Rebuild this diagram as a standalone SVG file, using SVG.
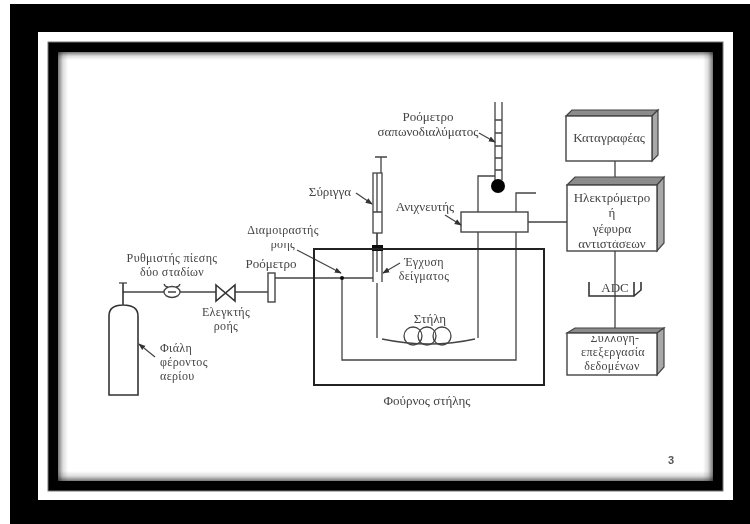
<svg xmlns="http://www.w3.org/2000/svg" width="750" height="524" viewBox="0 0 750 524">
<defs>
<linearGradient id="gl" x1="0" x2="1" y1="0" y2="0"><stop offset="0" stop-color="#777"/><stop offset=".5" stop-color="#ddd"/><stop offset="1" stop-color="#fff"/></linearGradient>
<linearGradient id="gr" x1="1" x2="0" y1="0" y2="0"><stop offset="0" stop-color="#777"/><stop offset=".5" stop-color="#ddd"/><stop offset="1" stop-color="#fff"/></linearGradient>
<linearGradient id="gt" x1="0" x2="0" y1="0" y2="1"><stop offset="0" stop-color="#777"/><stop offset=".5" stop-color="#ddd"/><stop offset="1" stop-color="#fff"/></linearGradient>
<linearGradient id="gb" x1="0" x2="0" y1="1" y2="0"><stop offset="0" stop-color="#777"/><stop offset=".5" stop-color="#ddd"/><stop offset="1" stop-color="#fff"/></linearGradient>
<marker id="a" viewBox="0 0 8 8" refX="7" refY="4" markerWidth="6" markerHeight="6" orient="auto"><path d="M0 1L8 4L0 7Z" fill="#333"/></marker>
<filter id="s" x="-5%" y="-5%" width="110%" height="110%"><feGaussianBlur stdDeviation="0.5"/></filter>
<clipPath id="c1"><rect x="560" y="240" width="100" height="11"/></clipPath>
<clipPath id="c2"><rect x="560" y="336" width="100" height="9"/></clipPath>
<clipPath id="c3"><rect x="595" y="283" width="38" height="12"/></clipPath>
<clipPath id="c4"><rect x="260" y="243" width="50" height="10"/></clipPath>
</defs>
<style>
.l{fill:none;stroke:#444;stroke-width:1.3}
.p{fill:none;stroke:#333;stroke-width:1.6}
.ar{fill:none;stroke:#444;stroke-width:1.2;marker-end:url(#a)}
.t{font-family:"Liberation Serif","DejaVu Serif",serif;font-size:13px;fill:#444;text-anchor:middle}
.n{font-size:12px;letter-spacing:.35px}
.st{text-anchor:start}
.bx{fill:#fff;stroke:#444;stroke-width:1.4}
.tp{fill:#8c8c8c;stroke:#444;stroke-width:1.2}
.sd{fill:#a8a8a8;stroke:#444;stroke-width:1.2}
</style>
<rect width="750" height="524" fill="#fff"/>
<g id="frame">
<rect x="10" y="4" width="740" height="520" fill="#000"/>
<rect x="38" y="32" width="695" height="468" fill="#fff"/>
<rect x="48" y="42" width="675" height="449" fill="#000" stroke="#777" stroke-width="1"/>
<rect x="58" y="52" width="655" height="429" fill="#fff"/>
<rect x="58" y="52" width="10" height="429" fill="url(#gl)"/>
<rect x="703" y="52" width="10" height="429" fill="url(#gr)"/>
<rect x="58" y="52" width="655" height="8" fill="url(#gt)" style="mix-blend-mode:multiply"/>
<rect x="58" y="471" width="655" height="10" fill="url(#gb)" style="mix-blend-mode:multiply"/>
</g>
<g filter="url(#s)">
<g id="connectors">
<path class="l" d="M123 292H164M180 292H216M235 292H268M275 278H373"/>
<path class="l" d="M342 278V360H516V232M516 212V193H536"/>
<path class="l" d="M377 283V338M478 338V176H495"/>
<path class="l" d="M528 222H567M615 161V185M615 251V296M615 296V333"/>
<path class="p" d="M377 233V245"/>
</g>
<g id="cylinder"><path class="p" d="M109 395V316Q109 305 123 305Q138 305 138 316V395ZM123 283V305"/><path class="l" d="M119 283H127"/><path class="ar" d="M155 357L139 344"/><text class="t n st" x="160" y="352">Φιάλη</text><text class="t n st" x="160" y="366">φέροντος</text><text class="t n st" x="160" y="380">αερίου</text></g>
<g id="regulator"><ellipse class="l" cx="172" cy="292" rx="8" ry="5.5"/><path class="l" d="M168 292H176M164 284Q165 287 168 287M180 284Q179 287 176 287"/><text class="t n" x="172" y="262">Ρυθμιστής πίεσης</text><text class="t n" x="172" y="276">δύο σταδίων</text></g>
<g id="valve"><path class="p" d="M216 285L235 301V285L216 301Z"/><text class="t n" x="226" y="316">Ελεγκτής</text><text class="t n" x="226" y="330">ροής</text></g>
<g id="flowmeter"><rect class="bx" x="268" y="273" width="7" height="29"/><text class="t" x="271" y="268">Ροόμετρο</text></g>
<g id="splitter"><circle cx="342" cy="278" r="2" fill="#111"/><path class="ar" d="M297 250L341 273"/><text class="t n" x="283" y="234">Διαμοιραστής</text><text class="t n" x="283" y="248" clip-path="url(#c4)">ροής</text></g>
<g id="syringe"><path class="l" d="M375 157H387M381 157V173"/><rect class="l" x="373" y="173" width="9" height="60"/><path class="l" d="M373 212H382M377 173V212"/><path class="ar" d="M356 193L372 204"/><text class="t" x="330" y="196">Σύριγγα</text></g>
<g id="injector"><rect x="372" y="245" width="11" height="6" fill="#111"/><path class="l" d="M373 251V282M382 251V282M377 251V272"/><path class="ar" d="M400 263L383 273"/><text class="t n" x="424" y="266">Έγχυση</text><text class="t n" x="424" y="280">δείγματος</text></g>
<g id="oven"><rect x="314" y="249" width="230" height="136" fill="none" stroke="#222" stroke-width="2"/><text class="t" x="427" y="405">Φούρνος στήλης</text></g>
<g id="column"><path class="l" d="M382 339Q430 349 475 339"/><circle class="l" cx="413" cy="336" r="9"/><circle class="l" cx="427" cy="336" r="9"/><circle class="l" cx="442" cy="336" r="9"/><text class="t" x="430" y="323">Στήλη</text></g>
<g id="detector"><rect class="bx" x="461" y="212" width="67" height="20"/><path class="ar" d="M445 215L461 225"/><text class="t" x="425" y="211">Ανιχνευτής</text></g>
<g id="bubble"><path class="l" d="M495 102V180M502 102V180M495 120H502M495 133H502M495 146H502M495 158H502M495 170H502"/><circle cx="498" cy="186" r="7" fill="#000"/><path class="ar" d="M479 133L495 142"/><text class="t" x="428" y="121">Ροόμετρο</text><text class="t" x="428" y="136">σαπωνοδιαλύματος</text></g>
<g id="recorder"><path class="tp" d="M566 116L572 110H658L652 116Z"/><path class="sd" d="M652 116L658 110V155L652 161Z"/><rect class="bx" x="566" y="116" width="86" height="45"/><text class="t" x="609" y="142">Καταγραφέας</text></g>
<g id="electrometer"><path class="tp" d="M567 185L575 177H664L657 185Z"/><path class="sd" d="M657 185L664 177V243L657 251Z"/><rect class="bx" x="567" y="185" width="90" height="66"/><text class="t" x="612" y="202">Ηλεκτρόμετρο</text><text class="t" x="612" y="217">ή</text><text class="t" x="612" y="233">γέφυρα</text><text class="t" x="612" y="248" clip-path="url(#c1)">αντιστάσεων</text></g>
<g id="adc"><path class="p" d="M589 282V296H634V282M634 296L641 290V282"/><text class="t" x="615" y="292" clip-path="url(#c3)">ADC</text></g>
<g id="dataproc"><path class="tp" d="M567 333L575 328H664L657 333Z"/><path class="sd" d="M657 333L664 328V367L657 375Z"/><rect class="bx" x="567" y="333" width="90" height="42"/><text class="t n" x="615" y="342" clip-path="url(#c2)">Συλλογή-</text><text class="t n" x="613" y="356">επεξεργασία</text><text class="t n" x="612" y="370">δεδομένων</text></g>
</g>
<text id="page" x="671" y="464" filter="url(#s)" style="font-family:'Liberation Sans',sans-serif;font-size:11px;fill:#555;text-anchor:middle;font-weight:bold">3</text>
</svg>
